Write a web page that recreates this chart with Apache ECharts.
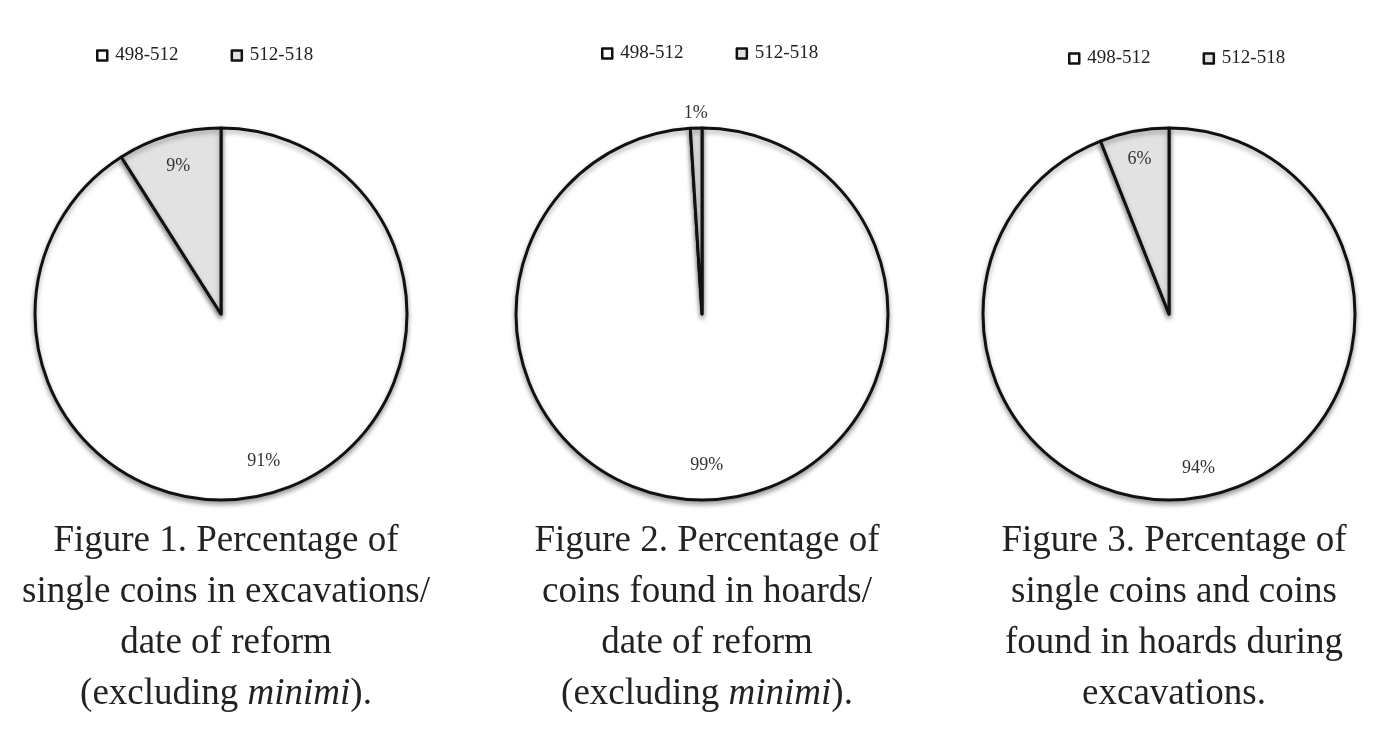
<!DOCTYPE html>
<html><head><meta charset="utf-8">
<script src="https://cdn.jsdelivr.net/npm/echarts@6/dist/echarts.min.js"></script>
<style>html,body{margin:0;padding:0;background:#fff}#c{width:1381px;height:753px}</style>
</head><body><div id="c"></div>
<script>
const categories = ['498-512', '512-518'];
const fig1Values = [91, 9];
const fig2Values = [99, 1];
const fig3Values = [94, 6];
const colors = ['#ffffff', '#e2e2e2'];
const captions = [
  ['Figure 1. Percentage of', 'single coins in excavations/', 'date of reform', '(excluding {i|minimi}).'],
  ['Figure 2. Percentage of', 'coins found in hoards/', 'date of reform', '(excluding {i|minimi}).'],
  ['Figure 3. Percentage of', 'single coins and coins', 'found in hoards during', 'excavations.']
];
const centers = [[221, 314], [702, 314], [1169, 314]];
const R = 186;
const serif = '"Liberation Serif", "Times New Roman", serif';

function pieSeries(vals, c) {
  return {
    type: 'pie', center: c, radius: [0, R], startAngle: 90, clockwise: true,
    silent: true, animation: false,
    data: vals.map((v, i) => ({ name: categories[i], value: v, itemStyle: { color: colors[i] } })),
    label: { show: false }, labelLine: { show: false },
    itemStyle: { borderColor: '#111', borderWidth: 3, shadowBlur: 5, shadowOffsetY: 3, shadowColor: 'rgba(0,0,0,0.35)' }
  };
}
function labelSeries(vals, c, r0, r1, showIdx) {
  return {
    type: 'pie', center: c, radius: [r0, r1], startAngle: 90, clockwise: true,
    silent: true, animation: false, legendHoverLink: false,
    data: vals.map((v, i) => ({
      name: categories[i], value: v,
      label: { show: showIdx ? showIdx.includes(i) : true }
    })),
    itemStyle: { color: 'rgba(0,0,0,0)', borderWidth: 0, borderColor: 'rgba(0,0,0,0)' },
    label: { position: 'inside', formatter: '{c}%', color: '#333', fontFamily: serif, fontSize: 18 },
    labelLine: { show: false }
  };
}
const series = [
  pieSeries(fig1Values, centers[0]),
  labelSeries(fig1Values, centers[0], R * 0.62, R * 1.0),
  pieSeries(fig2Values, centers[1]),
  labelSeries(fig2Values, centers[1], R * 0.6, R * 1.0, [0]),
  labelSeries(fig2Values, centers[1], R * 1.0, R * 1.13, [1]),
  pieSeries(fig3Values, centers[2]),
  labelSeries(fig3Values, centers[2], R * 0.66, R * 1.0)
];
const legendLefts = [91, 596, 1063];
const legendTops = [41, 39, 44];
const legend = legendLefts.map((l, k) => ({
  left: l, top: legendTops[k], itemWidth: 10, itemHeight: 10, itemGap: 52, icon: 'rect',
  data: categories, selectedMode: false,
  itemStyle: { borderColor: '#111', borderWidth: 2.5 },
  textStyle: { fontFamily: serif, fontSize: 19, color: '#222', padding: [0, 0, 0, 3] }
}));
const title = captions.map((lines, i) => ({
  text: lines.join('\n'), left: centers[i][0], top: 511, textAlign: 'center',
  textStyle: {
    fontFamily: serif, fontWeight: 'normal', fontSize: 37, lineHeight: 51, color: '#222',
    rich: { i: { fontFamily: serif, fontStyle: 'italic', fontSize: 37, lineHeight: 51, color: '#222' } }
  }
}));
const chart = echarts.init(document.getElementById('c'));
chart.setOption({ animation: false, backgroundColor: '#fff', title, legend, series });
</script></body></html>
